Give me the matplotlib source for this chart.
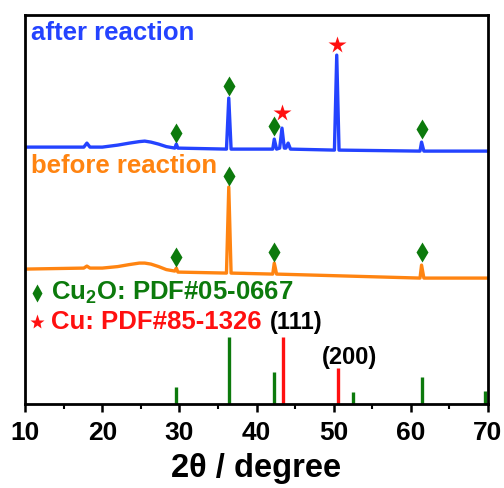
import numpy as np
import matplotlib
matplotlib.use("Agg")
import matplotlib.pyplot as plt

plt.rcParams['font.family'] = ['Liberation Sans', 'DejaVu Sans']
plt.rcParams['font.weight'] = 'bold'
plt.rcParams['mathtext.default'] = 'regular'

BLUE = '#2443ff'
ORANGE = '#ff8411'
GREEN = '#0c7a0c'
RED = '#ff1010'

# after reaction pattern (2theta, intensity, stacked offset included)
after_x = [10, 17.6, 18.0, 18.4, 20, 22, 23.5, 24.8, 25.5, 26.3, 27.3, 28.3,
           29.4, 29.6, 29.8, 36.1, 36.4, 36.7, 42.1, 42.3, 42.6, 43.0, 43.3,
           43.6, 43.8, 44.1, 44.4, 50.1, 50.4, 50.7, 61.2, 61.4, 61.7, 70]
after_y = [257, 257, 261, 257, 257, 259, 261, 262.5, 263, 262, 260, 257.5,
           256, 260, 256, 255, 306, 255, 255, 265, 255, 256, 276,
           256, 256, 261, 255, 254, 349, 254, 253, 262, 253, 253]

# before reaction pattern
before_x = [10, 17.6, 18.0, 18.4, 20, 22, 23.5, 24.8, 25.5, 26.3, 27.3, 28.3,
            29.4, 29.6, 29.8, 36.1, 36.4, 36.7, 42.1, 42.3, 42.6, 61.2, 61.4,
            61.7, 70]
before_y = [135, 136, 138, 136, 136, 137.5, 139.5, 141, 141, 140, 137.5, 134.5,
            133, 136, 132, 131, 217, 131, 130, 141, 130, 126, 139,
            126, 126]

# marker positions
after_dia_x = [29.6, 36.4, 42.3, 61.4]
after_dia_y = [271, 318, 278, 275]
after_star_x = [43.3, 50.4]
after_star_y = [291, 359]
before_dia_x = [29.6, 36.4, 42.3, 61.4]
before_dia_y = [147, 228, 152, 152]

# standard cards
cu2o_x = [29.6, 36.4, 42.3, 52.5, 61.4, 69.6]
cu2o_h = [17, 67, 32, 12, 27, 13]
cu_x = [43.4, 50.5]
cu_h = [67, 36]

fig = plt.figure(figsize=(5.04, 4.88), dpi=100)
ax = fig.add_axes([0.05, 0.172, 0.918, 0.797])

ax.plot(after_x, after_y, color=BLUE, lw=2.4)
ax.plot(before_x, before_y, color=ORANGE, lw=2.4)

ax.plot(after_dia_x, after_dia_y, 'd', color=GREEN, ms=10, mec='none')
ax.plot(before_dia_x, before_dia_y, 'd', color=GREEN, ms=10, mec='none')
ax.plot(after_star_x, after_star_y, '*', color=RED, ms=13, mec='none')

ax.vlines(cu2o_x, 0, cu2o_h, color=GREEN, lw=2.4)
ax.vlines(cu_x, 0, cu_h, color=RED, lw=2.4)

ax.text(0.012, 0.955, 'after reaction', color=BLUE, fontsize=18.5,
        fontweight='bold', transform=ax.transAxes, va='center')
ax.text(0.012, 0.612, 'before reaction', color=ORANGE, fontsize=18.5,
        fontweight='bold', transform=ax.transAxes, va='center')

ax.plot([0.026], [0.286], 'd', color=GREEN, ms=9, mec='none', transform=ax.transAxes)
ax.text(0.055, 0.286, 'Cu$_2$O: PDF#05-0667', color=GREEN, fontsize=18.5,
        fontweight='bold', transform=ax.transAxes, va='center')
ax.plot([0.026], [0.211], '*', color=RED, ms=11, mec='none', transform=ax.transAxes)
ax.text(0.055, 0.211, 'Cu: PDF#85-1326', color=RED, fontsize=18.5,
        fontweight='bold', transform=ax.transAxes, va='center')
ax.text(45.2, 82, '(111)', color='black', fontsize=17, fontweight='bold',
        ha='center', va='center')
ax.text(52.1, 47, '(200)', color='black', fontsize=17, fontweight='bold',
        ha='center', va='center')

ax.set_xlim(10, 70)
ax.set_ylim(0, 389)
ax.set_yticks([])
ax.set_xticks(np.arange(10, 71, 10))
ax.set_xticks(np.arange(15, 70, 10), minor=True)
ax.tick_params(axis='x', which='major', direction='out', length=6, width=1.8,
               labelsize=19, pad=6)
ax.tick_params(axis='x', which='minor', direction='out', length=3.5, width=1.5)
for lbl in ax.get_xticklabels():
    lbl.set_fontweight('bold')
for s in ax.spines.values():
    s.set_linewidth(2)
ax.set_xlabel('2θ / degree', fontsize=23.5, fontweight='bold', labelpad=6)

fig.savefig('out.png', dpi=100)
